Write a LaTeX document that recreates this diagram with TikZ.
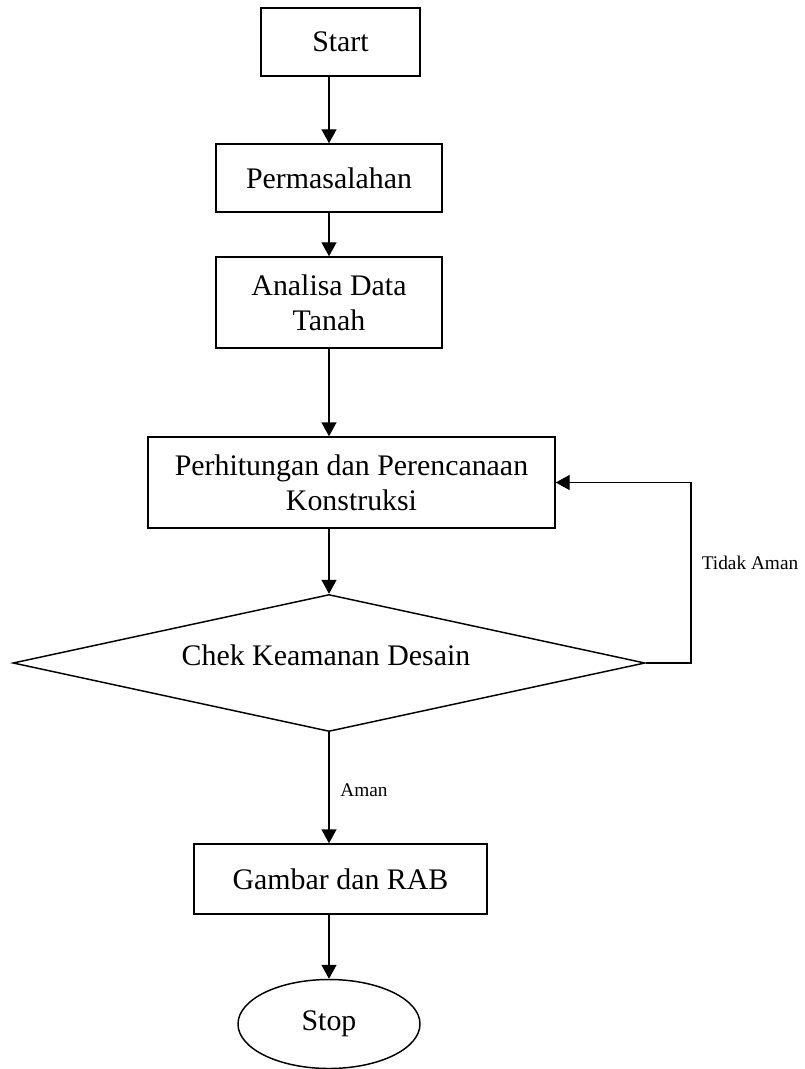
\documentclass[tikz,border=0pt]{standalone}
\usepackage{fontspec}
\setmainfont{Liberation Serif}
\usetikzlibrary{arrows.meta,shapes.geometric}
\newdimen\upx
\upx=0.75pt
\begin{document}
\begin{tikzpicture}[x=0.75pt,y=-0.75pt,
  line width=1.1pt,
  box/.style={draw, rectangle, inner sep=0pt, align=center,
    font=\fontsize{22.4pt}{26pt}\selectfont},
  lbl/.style={inner sep=0pt, font=\fontsize{14.5pt}{17pt}\selectfont},
  arr/.style={-{Triangle[length=10.5pt,width=11.25pt]}}]
\useasboundingbox (0,0) rectangle (804,1069);
\node[box, minimum width=159\upx, minimum height=68\upx] (start) at (340.5,42) {Start};
\node[box, minimum width=226\upx, minimum height=68\upx] (perm) at (329,178) {Permasalahan};
\node[box, minimum width=226\upx, minimum height=91\upx] (anal) at (329,302.5) {Analisa Data\\Tanah};
\node[box, minimum width=407\upx, minimum height=91\upx] (perh) at (351.5,482.5) {Perhitungan dan Perencanaan\\Konstruksi};
\node[draw, diamond, inner sep=0pt, minimum width=632\upx, minimum height=137\upx] (dia) at (329,663) {};
\node[inner sep=0pt, font=\fontsize{22.4pt}{26pt}\selectfont] (diat) at (326,655) {Chek Keamanan Desain};
\node[box, minimum width=293\upx, minimum height=70\upx] (gamb) at (340.5,879) {Gambar dan RAB};
\node[draw, ellipse, inner sep=0pt, minimum width=182\upx, minimum height=89\upx,
  font=\fontsize{22.4pt}{26pt}\selectfont] (stop) at (329,1024) {Stop};
\draw[arr] (start.south -| perm.north) -- (perm.north);
\draw[arr] (perm.south) -- (anal.north);
\draw[arr] (anal.south) -- (anal.south |- perh.north);
\draw[arr] (perh.south -| dia.north) -- (dia.north);
\draw[arr] (dia.south) -- (dia.south |- gamb.north);
\draw[arr] (gamb.south -| stop.north) -- (stop.north);
\coordinate (lp) at (691,663);
\draw[arr] (dia.east) -- (lp) |- (perh.east);
\node[lbl] (tidak) at (750,563) {Tidak Aman};
\node[lbl] (aman) at (364,790) {Aman};
\end{tikzpicture}
\end{document}
